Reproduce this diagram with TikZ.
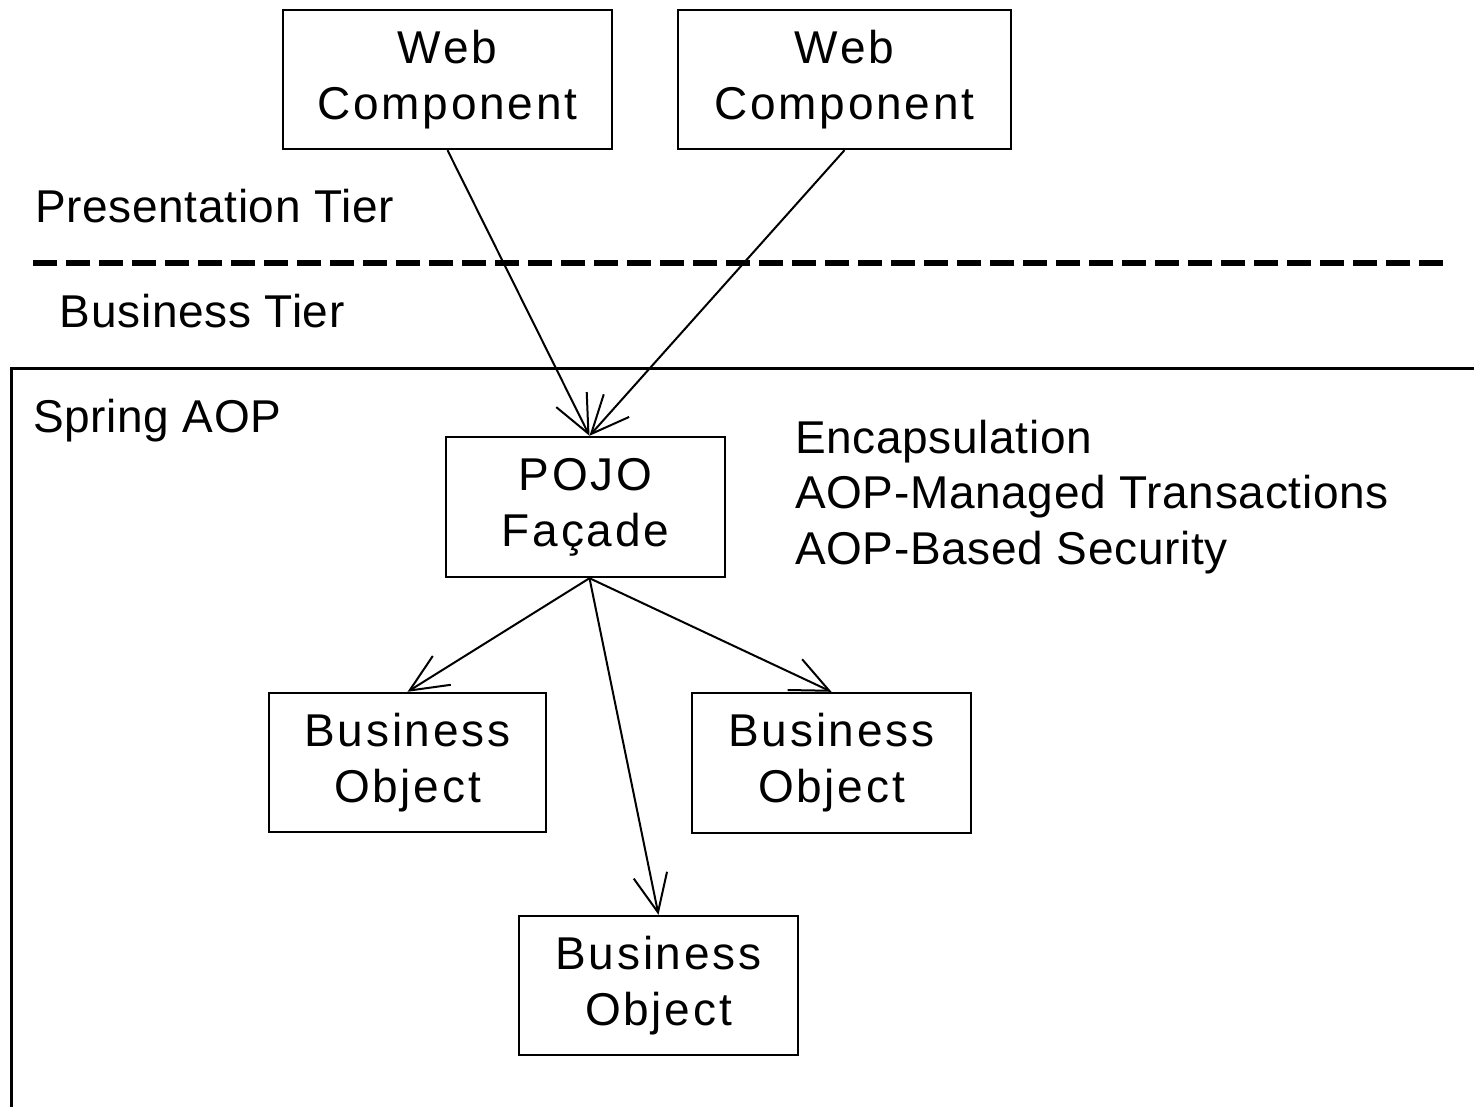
\documentclass[tikz,border=0pt]{standalone}
\usepackage{fontspec}
\setmainfont{Liberation Sans}
\newfontfamily\boxfont[LetterSpace=6]{Liberation Sans}
\newfontfamily\labelfont[LetterSpace=1.5]{Liberation Sans}
\usetikzlibrary{arrows.meta}
\begin{document}
\begin{tikzpicture}[x=.5pt,y=-.5pt,
  tierbox/.style={draw=black,line width=1.2pt,align=center,inner sep=0pt,font=\boxfont\fontsize{23}{28}\selectfont},
  label/.style={inner sep=0pt,outer sep=0pt,anchor=base west,font=\labelfont\fontsize{23}{28}\selectfont},
  call/.style={draw=black,line width=1pt,-{Straight Barb[length=19pt,width=17pt,line width=1pt]}}]
\path[use as bounding box] (0,0) rectangle (1474,1107);
\path[fill=white,draw=none] (0,0) rectangle (1474,1107);
% tiers
\node[label] (pres) at (35,223) {Presentation Tier};
\draw[line width=3pt,dash pattern=on 12pt off 4.5pt] (33,263) -- (1445,263);
\node[label] (bus) at (60,328) {Business Tier};
\draw[line width=1.5pt] (11,1107) -- (11,369) -- (1474,369);
\node[label] (aop) at (33,433) {Spring AOP};
% services
\node[label] (enc) at (795,453) {Encapsulation};
\node[label] (tx) at (795,509) {AOP-Managed Transactions};
\node[label] (sec) at (795,564) {AOP-Based Security};
% components
\node[tierbox,minimum width=164.5pt,minimum height=69.5pt] (web1) at (447.5,79.5) {Web\\Component};
\node[tierbox,minimum width=166.5pt,minimum height=69.5pt] (web2) at (844.5,79.5) {Web\\Component};
\node[tierbox,minimum width=139.5pt,minimum height=70pt] (pojo) at (585.5,507) {POJO\\Façade};
\node[tierbox,minimum width=138.5pt,minimum height=69.5pt] (bo1) at (407.5,762.5) {Business\\Object};
\node[tierbox,minimum width=139.5pt,minimum height=70pt] (bo2) at (831.5,763) {Business\\Object};
\node[tierbox,minimum width=139.5pt,minimum height=69.5pt] (bo3) at (658.5,985.5) {Business\\Object};
% calls
\draw[call] (web1.south) -- ([xshift=2pt]pojo.north);
\draw[call] (web2.south) -- ([xshift=2pt]pojo.north);
\draw[call] ([xshift=2pt]pojo.south) -- (bo1.north);
\draw[call] ([xshift=2pt]pojo.south) -- (bo2.north);
\draw[call] ([xshift=2pt]pojo.south) -- (bo3.north);
\end{tikzpicture}
\end{document}
